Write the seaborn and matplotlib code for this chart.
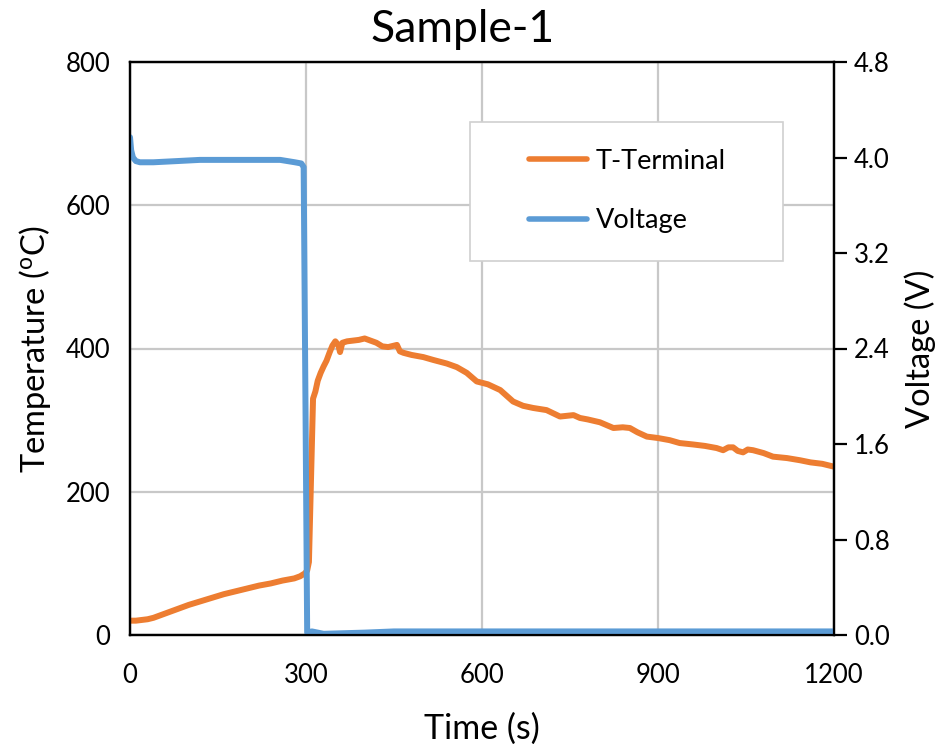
import matplotlib
matplotlib.use("Agg")
import matplotlib.pyplot as plt
import seaborn as sns
import pandas as pd
from matplotlib.patches import Rectangle
from matplotlib.lines import Line2D

# ---- data ----
temp_time = [0, 10, 20, 30, 40, 50, 60, 80, 100, 120,
             140, 160, 180, 200, 220, 240, 260, 280, 290, 298,
             302, 305, 308, 312, 316, 320, 325, 330, 335, 340,
             345, 350, 355, 358, 362, 370, 380, 390, 400, 410,
             420, 430, 440, 450, 455, 460, 466, 480, 500, 517,
             540, 557, 574, 591, 610, 631, 653, 670, 687, 710,
             733, 756, 767, 780, 801, 824, 840, 852, 865, 881,
             900, 920, 937, 960, 980, 1000, 1011, 1020, 1028, 1036,
             1045, 1053, 1062, 1080, 1096, 1120, 1142, 1160, 1180, 1200]
temp_vals = [20, 20, 21, 22, 24, 27, 30, 36, 42, 47,
             52, 57, 61, 65, 69, 72, 76, 79, 82, 86,
             90, 102, 200, 330, 340, 355, 366, 375, 383, 394,
             404, 410, 405, 395, 408, 410, 411, 412, 414, 411,
             408, 403, 402, 404, 405, 396, 394, 391, 388, 384,
             379, 374, 366, 354, 350, 342, 326, 320, 317, 314,
             305, 307, 303, 301, 297, 289, 290, 289, 283, 277,
             275, 272, 268, 266, 264, 261, 258, 262, 262, 257,
             255, 259, 258, 254, 249, 247, 244, 241, 239, 235]

volt_time = [0, 2, 5, 10, 17, 40, 80, 119, 150, 187,
             230, 256, 281, 292, 296, 299, 302, 310, 330, 400,
             450, 600, 800, 1000, 1200]
volt_vals = [4.17, 4.06, 4.0, 3.97, 3.96, 3.96, 3.97, 3.98, 3.98, 3.98,
             3.98, 3.98, 3.96, 3.95, 3.92, 2.0, 0.02, 0.03, 0.01, 0.02,
             0.03, 0.03, 0.03, 0.03, 0.03]

series_names = ["T-Terminal", "Voltage"]
x_ticks = [0, 300, 600, 900, 1200]
t_ticks = [0, 200, 400, 600, 800]
v_ticks = [0.0, 0.8, 1.6, 2.4, 3.2, 4.0, 4.8]

ORANGE = "#ED7D31"
BLUE = "#5B9BD5"
GRID = "#c8c8c8"

sns.set_theme(style="ticks")
plt.rcParams["font.family"] = ["Lato", "DejaVu Sans"]
plt.rcParams["mathtext.fontset"] = "custom"
plt.rcParams["mathtext.rm"] = "Lato"
for k in ("text.color", "axes.labelcolor", "xtick.color", "ytick.color"):
    plt.rcParams[k] = "black"
plt.rcParams["ytick.major.size"] = 9.5
plt.rcParams["ytick.major.width"] = 1.6
plt.rcParams["ytick.direction"] = "out"

fig = plt.figure(figsize=(9.46, 7.44), dpi=100)
ax = fig.add_axes([130 / 946, 1 - 635 / 744, 704 / 946, 573 / 744])
ax2 = ax.twinx()

df_t = pd.DataFrame({"t": temp_time, "v": temp_vals})
df_v = pd.DataFrame({"t": volt_time, "v": volt_vals})

sns.lineplot(data=df_t, x="t", y="v", ax=ax, color=ORANGE, lw=4.3,
             estimator=None, sort=False, solid_capstyle="round")
sns.lineplot(data=df_v, x="t", y="v", ax=ax2, color=BLUE, lw=4.3,
             estimator=None, sort=False, solid_capstyle="round")

ax.set_xlim(0, 1200)
ax.set_ylim(0, 800)
ax2.set_ylim(0, 4.8)
ax.set_xticks(x_ticks)
ax.set_yticks(t_ticks)
ax2.set_yticks(v_ticks)
ax2.set_yticklabels([f"{v:.1f}" for v in v_ticks])

ax.grid(True, color=GRID, lw=1.6)
ax2.grid(False)
for a in (ax, ax2):
    for s in a.spines.values():
        s.set_color("black")
        s.set_linewidth(1.6)

ax.tick_params(axis="x", length=0, labelsize=18.5, pad=20)
ax.tick_params(axis="y", length=0, labelsize=18.5, pad=14)
ax2.tick_params(axis="y", which="major", length=9.5, width=1.6, direction="out",
                labelsize=18.5, pad=5, color="black")

ax.set_xlabel("Time (s)", fontsize=24.5, labelpad=18)
ax.set_ylabel("Temperature ($\\mathregular{^{o}}$C)", fontsize=23.5, labelpad=9)
ax2.set_ylabel("Voltage (V)", fontsize=23.5, labelpad=10)
fig.text(463 / 946, 1 - 30 / 744, "Sample-1", fontsize=32, ha="center", va="center")

# legend box
rect = Rectangle((0.483, 0.653), 0.444, 0.242, transform=ax2.transAxes,
                 facecolor="white", edgecolor="#d0d0d0", lw=1.2, zorder=10)
ax2.add_patch(rect)
handles = [Line2D([], [], color=ORANGE, lw=4.0, solid_capstyle="round"),
           Line2D([], [], color=BLUE, lw=4.0, solid_capstyle="round")]
leg = ax2.legend(handles, series_names, loc="center left",
                 bbox_to_anchor=(0.567, 0.775), frameon=False, fontsize=19.5,
                 handlelength=2.15, handletextpad=0.3, labelspacing=1.27,
                 borderpad=0, borderaxespad=0)
leg.set_zorder(11)

fig.savefig("out.png", dpi=100)
